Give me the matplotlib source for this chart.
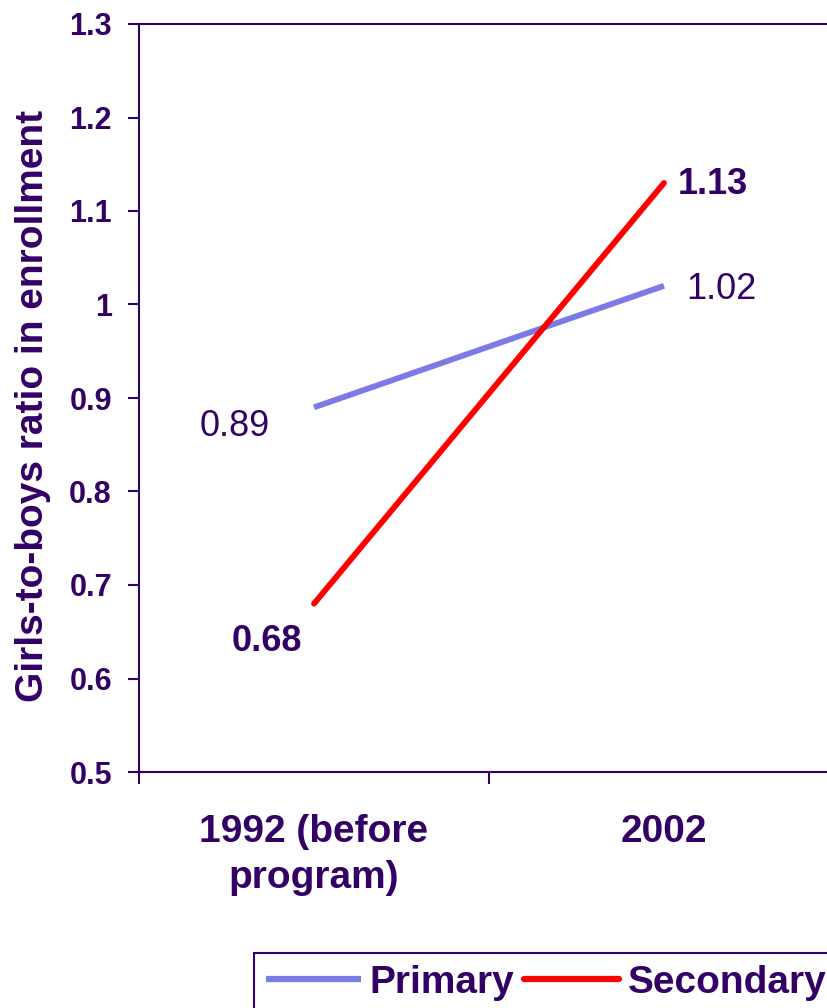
import matplotlib
matplotlib.use("Agg")
import matplotlib.pyplot as plt
from matplotlib.ticker import FixedLocator, FixedFormatter

# data
categories = ["1992 (before\nprogram)", "2002"]
primary = [0.89, 1.02]
secondary = [0.68, 1.13]
yticks = [0.5, 0.6, 0.7, 0.8, 0.9, 1.0, 1.1, 1.2, 1.3]
ytick_labels = ["0.5", "0.6", "0.7", "0.8", "0.9", "1", "1.1", "1.2", "1.3"]

PURPLE = "#330066"
BLUE = "#7B7BE6"
RED = "#FF0000"

plt.rcParams['font.family'] = ['Liberation Sans', 'DejaVu Sans']

fig = plt.figure(figsize=(8.28, 10.08), dpi=100)
W, H = 828, 1008
ax = fig.add_axes([139 / W, 236 / H, 700 / W, 748 / H])

xpos = [i + 0.5 for i in range(len(categories))]
ax.plot(xpos, primary, color=BLUE, lw=4.2, solid_capstyle='butt', label="Primary")
ax.plot(xpos, secondary, color=RED, lw=4.2, solid_capstyle='round', label="Secondary")

ax.set_xlim(0, len(categories))
ax.set_ylim(0.5, 1.3)

# y axis
ax.yaxis.set_major_locator(FixedLocator(yticks))
ax.yaxis.set_major_formatter(FixedFormatter(ytick_labels))
ax.tick_params(axis='y', direction='out', length=8, width=1.5, color=PURPLE,
               labelsize=22, labelcolor=PURPLE, pad=11.5)
for lab in ax.get_yticklabels():
    lab.set_fontweight('bold')

# x axis: ticks on category boundaries, labels in the middle
ax.xaxis.set_major_locator(FixedLocator(range(len(categories) + 1)))
ax.xaxis.set_major_formatter(FixedFormatter([""] * (len(categories) + 1)))
ax.xaxis.set_minor_locator(FixedLocator(xpos))
ax.xaxis.set_minor_formatter(FixedFormatter(categories))
ax.tick_params(axis='x', which='major', direction='out', length=8.6, width=1.5, color=PURPLE)
ax.tick_params(axis='x', which='minor', length=0, pad=30, labelsize=28, labelcolor=PURPLE)
for lab in ax.xaxis.get_minorticklabels():
    lab.set_fontweight('bold')
    lab.set_linespacing(1.38)

for sp in ax.spines.values():
    sp.set_color(PURPLE)
    sp.set_linewidth(1.5)

ax.set_ylabel("Girls-to-boys ratio in enrollment", fontsize=28, fontweight='bold', color=PURPLE)
ax.yaxis.set_label_coords(-0.126, 0.49)

# value labels
ax.annotate(f"{primary[0]:.2f}", (xpos[0], primary[0]), xytext=(-44, -19), textcoords='offset pixels',
            ha='right', va='center', fontsize=26, color=PURPLE)
ax.annotate(f"{primary[1]:.2f}", (xpos[1], primary[1]), xytext=(22, -4), textcoords='offset pixels',
            ha='left', va='center', fontsize=26, color=PURPLE)
ax.annotate(f"{secondary[0]:.2f}", (xpos[0], secondary[0]), xytext=(-12, -38), textcoords='offset pixels',
            ha='right', va='center', fontsize=26, fontweight='bold', color=PURPLE)
ax.annotate(f"{secondary[1]:.2f}", (xpos[1], secondary[1]), xytext=(14, -2), textcoords='offset pixels',
            ha='left', va='center', fontsize=26, fontweight='bold', color=PURPLE)

leg = fig.legend(loc='upper left', bbox_to_anchor=(254 / W, 1 - 953 / H), ncol=2,
                 prop={'weight': 'bold', 'size': 28}, labelcolor=PURPLE,
                 handlelength=2.45, handletextpad=0.22, columnspacing=0.25,
                 borderpad=0.3, borderaxespad=0, fancybox=False, framealpha=1)
leg.get_frame().set_edgecolor(PURPLE)
leg.get_frame().set_linewidth(1.5)
for line in leg.get_lines():
    line.set_linewidth(4.5)

fig.savefig("out.png", dpi=100)
